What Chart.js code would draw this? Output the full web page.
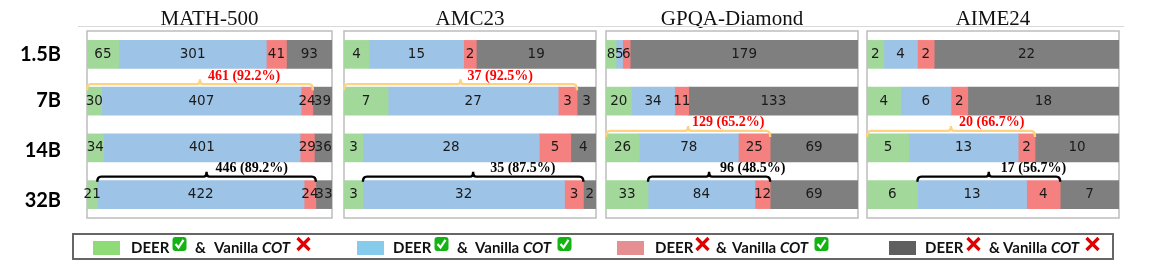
<!DOCTYPE html>
<html>
<head>
<meta charset="utf-8">
<script src="https://cdn.jsdelivr.net/npm/chart.js@4"></script>
<style>
  html, body { margin: 0; padding: 0; background: #fff; }
  #page { position: relative; width: 1154px; height: 266px; overflow: hidden; }
  canvas { position: absolute; top: 0; }
  #rule { position: absolute; left: 78px; top: 26px; width: 1046px; height: 1px; background: #d9d9d9; }
  #legend { position: absolute; left: 72px; top: 233px; width: 1038px; height: 23px; border: 2px solid #666; }
  .item { position: absolute; top: 0; height: 23px; white-space: pre; font: bold 15px Lato, sans-serif; color: #111; line-height: 25px; }
  .item i { position: absolute; top: 6px; left: 0; width: 27px; height: 14px; }
  .item span { position: absolute; top: 0; }
  .item svg { position: absolute; top: 1px; }
</style>
</head>
<body>
<div id="page">
  <canvas id="c0"></canvas><canvas id="c1"></canvas><canvas id="c2"></canvas><canvas id="c3"></canvas>
  <div id="rule"></div>
  <div id="legend"></div>
</div>
<script>
const sizes = ['1.5B', '7B', '14B', '32B'];
const datasetNames = ['MATH-500', 'AMC23', 'GPQA-Diamond', 'AIME24'];

const bothWrongFixed = [[65, 30, 34, 21], [4, 7, 3, 3], [8, 20, 26, 33], [2, 4, 5, 6]];
const bothRight = [[301, 407, 401, 422], [15, 27, 28, 32], [5, 34, 78, 84], [4, 6, 13, 13]];
const cotOnly = [[41, 24, 29, 24], [2, 3, 5, 3], [6, 11, 25, 12], [2, 2, 2, 4]];
const bothWrong = [[93, 39, 36, 33], [19, 3, 4, 2], [179, 133, 69, 69], [22, 18, 10, 7]];

// brace labels, one orange and one black per panel
const orangeRow = [1, 1, 2, 2];
const orangeText = ['461 (92.2%)', '37 (92.5%)', '129 (65.2%)', '20 (66.7%)'];
const blackText = ['446 (89.2%)', '35 (87.5%)', '96 (48.5%)', '17 (56.7%)'];

const seriesColors = ['#a3d89b', '#9dc3e6', '#f48080', '#7f7f7f'];
const panelLeft = [87, 344, 606, 867];
const panelRight = [332, 596, 858, 1119];
const orangeNudge = [8, 7, 4, 8];
const blackNudge = [9, 17, 11, 12];
const sizeTickPos = [0, 0.98, 2.06, 3.13];

function drawBrace(ctx, x0, x1, yLine, yEnd, color) {
  const mid = (x0 + x1) / 2, r = 3;
  ctx.save();
  ctx.strokeStyle = color;
  ctx.lineWidth = 2.4;
  ctx.beginPath();
  ctx.moveTo(x0, yEnd);
  ctx.quadraticCurveTo(x0, yLine, x0 + r + 1, yLine);
  ctx.lineTo(mid - r, yLine);
  ctx.quadraticCurveTo(mid, yLine, mid, yLine - 5);
  ctx.quadraticCurveTo(mid, yLine, mid + r, yLine);
  ctx.lineTo(x1 - r - 1, yLine);
  ctx.quadraticCurveTo(x1, yLine, x1, yEnd);
  ctx.stroke();
  ctx.restore();
}

const panelPlugin = {
  id: 'panel',
  beforeDatasetsDraw(chart) {
    const a = chart.chartArea, ctx = chart.ctx;
    ctx.save();
    ctx.strokeStyle = '#bdbdbd';
    ctx.lineWidth = 1.5;
    ctx.strokeRect(a.left, a.top, a.right - a.left, a.bottom - a.top);
    ctx.restore();
  },
  afterDraw(chart, args, opts) {
    const ctx = chart.ctx, x = chart.scales.x, y = chart.scales.y;
    // value labels
    ctx.save();
    ctx.font = '13.5px "DejaVu Sans"';
    ctx.fillStyle = '#1a1a1a';
    ctx.textAlign = 'center';
    ctx.textBaseline = 'middle';
    chart.data.datasets.forEach((ds, d) => {
      chart.getDatasetMeta(d).data.forEach((bar, i) => {
        ctx.fillText(String(ds.data[i]), (bar.x + bar.base) / 2, bar.y);
      });
    });
    ctx.restore();

    const p = opts.index, ds = chart.data.datasets;
    const barH = 28;
    // orange brace: correct with DEER, over the first three segments
    const oRow = orangeRow[p];
    const oEnd = ds[0].data[oRow] + ds[1].data[oRow] + ds[2].data[oRow];
    const oTop = y.getPixelForValue(oRow) - barH / 2;
    const ox0 = x.getPixelForValue(0), ox1 = x.getPixelForValue(oEnd);
    drawBrace(ctx, ox0, ox1, oTop - 3, oTop + 3, '#ffd27f');
    // black brace: blue and red segments of the last row
    const bRow = 3;
    const bStart = ds[0].data[bRow];
    const bEnd = bStart + ds[1].data[bRow] + ds[2].data[bRow];
    const bTop = y.getPixelForValue(bRow) - barH / 2;
    const bx0 = x.getPixelForValue(bStart), bx1 = x.getPixelForValue(bEnd);
    drawBrace(ctx, bx0, bx1, bTop - 4, bTop + 1, '#000');

    ctx.save();
    ctx.font = 'bold 14px "Liberation Serif"';
    ctx.textAlign = 'left';
    ctx.textBaseline = 'middle';
    ctx.fillStyle = '#ff0000';
    ctx.fillText(orangeText[p], (ox0 + ox1) / 2 + orangeNudge[p], oTop - 11);
    ctx.fillStyle = '#000';
    ctx.fillText(blackText[p], (bx0 + bx1) / 2 + blackNudge[p], bTop - 12);
    ctx.restore();
  }
};

datasetNames.forEach((name, p) => {
  const first = p === 0;
  const canvas = document.getElementById('c' + p);
  const left = first ? 0 : panelLeft[p] - 2;
  canvas.style.left = left + 'px';
  canvas.width = panelRight[p] + 2 - left;
  canvas.height = 266;

  const scales = {
    x: { type: 'linear', stacked: true, display: false, min: 0,
         max: bothWrongFixed[p][0] + bothRight[p][0] + cotOnly[p][0] + bothWrong[p][0] },
    y: { type: 'category', stacked: true, display: false, labels: sizes }
  };
  if (first) {
    // separate linear axis so the row names can sit where the reference has them
    scales.rowNames = {
      type: 'linear', position: 'left', reverse: true, min: -0.5, max: 3.5, offset: false,
      grid: { display: false, drawTicks: false, offset: false }, border: { display: false },
      afterBuildTicks(axis) { axis.ticks = sizeTickPos.map(v => ({ value: v })); },
      afterFit(axis) { axis.width = panelLeft[0]; axis.paddingTop = 0; axis.paddingBottom = 0; },
      ticks: {
        autoSkip: false, padding: 26, color: '#000',
        font: { family: 'Lato', weight: 'bold', size: 20 },
        callback: (v, i) => sizes[i]
      }
    };
  }

  new Chart(canvas, {
    type: 'bar',
    data: {
      labels: sizes,
      datasets: [bothWrongFixed[p], bothRight[p], cotOnly[p], bothWrong[p]].map((values, s) => ({
        data: values,
        backgroundColor: seriesColors[s],
        borderWidth: 0,
        barThickness: 28,
        yAxisID: 'y'
      }))
    },
    options: {
      indexAxis: 'y',
      responsive: false,
      animation: false,
      devicePixelRatio: 1,
      layout: { padding: { left: first ? 0 : 2, right: 2, top: 0, bottom: 48 } },
      scales,
      plugins: {
        legend: { display: false },
        tooltip: { enabled: false },
        panel: { index: p },
        title: {
          display: true, text: name, fullSize: false, color: '#111',
          font: { family: 'Liberation Serif', size: 21, weight: 'normal', lineHeight: '24px' },
          padding: { top: 7, bottom: 0 }
        }
      }
    },
    plugins: [panelPlugin]
  });
});

// legend
const check = x => `<svg style="left:${x}px" width="15" height="16" viewBox="0 0 15 16"><rect x="0.5" y="1" width="14" height="14" rx="3" fill="#12b312"/><path d="M3.5 8 L6.5 11.5 L11.5 3.8" fill="none" stroke="#fff" stroke-width="2.2"/></svg>`;
const cross = x => `<svg style="left:${x}px" width="15" height="16" viewBox="0 0 15 16"><path d="M1.5 2 L13.5 14 M13.5 2 L1.5 14" fill="none" stroke="#e00000" stroke-width="3.2"/></svg>`;
const legendEntries = [
  { left: 19, color: '#8fdb78', deer: 38, m1: check(79), amp: 102, cot: 121, m2: cross(203) },
  { left: 283, color: '#86cbec', deer: 36, m1: check(77), amp: 100, cot: 118, m2: check(200) },
  { left: 543, color: '#e68f93', deer: 38, m1: cross(78), amp: 99, cot: 115, m2: check(197) },
  { left: 815, color: '#5f5f5f', deer: 36, m1: cross(77), amp: 100, cot: 114, m2: cross(196) }
];
document.getElementById('legend').innerHTML = legendEntries.map(e =>
  `<div class="item" style="left:${e.left}px"><i style="background:${e.color}"></i>` +
  `<span style="left:${e.deer}px">DEER</span>${e.m1}<span style="left:${e.amp}px">&amp;</span>` +
  `<span style="left:${e.cot}px">Vanilla <em>COT</em></span>${e.m2}</div>`).join('');
</script>
</body>
</html>
